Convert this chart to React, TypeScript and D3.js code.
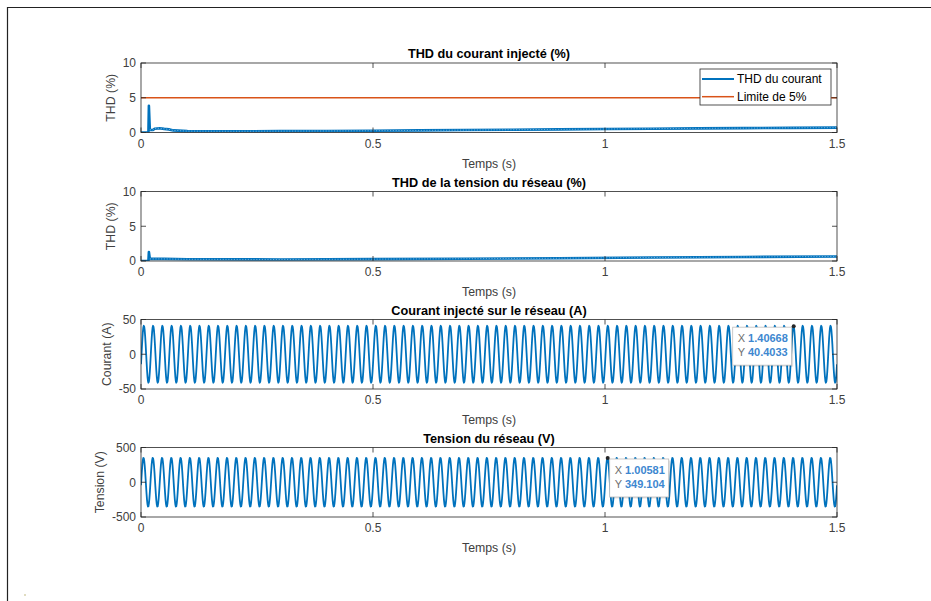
import React from "react";
import * as d3 from "d3";

// ---- data ----
const xTicks = [0, 0.5, 1, 1.5];
const xTickLabels = ["0", "0.5", "1", "1.5"];

// THD of injected current (%), [time s, value]
const thdCurrent: [number, number][] = [
  [0, 0], [0.016, 0], [0.017, 3.85], [0.019, 0.4], [0.025, 0.35], [0.03, 0.55],
  [0.04, 0.62], [0.05, 0.52], [0.06, 0.45], [0.07, 0.3], [0.1, 0.2], [0.2, 0.18],
  [0.3, 0.2], [0.4, 0.22], [0.5, 0.25], [0.6, 0.3], [0.7, 0.35], [0.8, 0.4],
  [0.9, 0.45], [1.0, 0.5], [1.1, 0.55], [1.2, 0.6], [1.3, 0.63], [1.4, 0.67], [1.5, 0.7],
];

// THD of grid voltage (%)
const thdVoltage: [number, number][] = [
  [0, 0], [0.016, 0], [0.017, 1.3], [0.019, 0.3], [0.05, 0.3], [0.1, 0.25],
  [0.3, 0.22], [0.5, 0.27], [0.7, 0.33], [0.9, 0.4], [1.1, 0.5], [1.3, 0.58], [1.5, 0.65],
];

const thdLimit = 5;
// the fast ripple texture is only visible once the startup transient has passed
const rippleStart = 0.019;

// one 20 ms period (50 Hz) sampled every 1 ms
const samplePeriod = 0.001;
const cyclePeriod = 0.02;
const cycleCount = 75;
const currentCycle = [
  -14.4, -1.8, 10.9, 22.6, 32.1, 38.4, 41.0, 39.5, 34.2, 25.6,
  14.4, 1.8, -10.9, -22.6, -32.1, -38.4, -41.0, -39.5, -34.2, -25.6,
];
const voltageCycle = [
  -44.1, 66.0, 169.6, 256.6, 318.5, 349.2, 345.8, 308.5, 240.9, 149.9,
  44.1, -66.0, -169.6, -256.6, -318.5, -349.2, -345.8, -308.5, -240.9, -149.9,
];

const currentTip = { x: 1.40668, y: 40.4033 };
const voltageTip = { x: 1.00581, y: 349.104 };

// ---- layout ----
const W = 931;
const H = 601;
const left = 141;
const right = 837;
const tops = [63, 191.5, 319.5, 447.5];
const ph = 69.5;
const BLUE = "#0072BD";
const RED = "#D95319";
const AX = "#262626";
const FONT = "'Liberation Sans', Arial, Helvetica, sans-serif";

function tile(cycle: number[]): [number, number][] {
  const pts: [number, number][] = [];
  for (let c = 0; c < cycleCount; c++) {
    cycle.forEach((v, k) => pts.push([c * cyclePeriod + k * samplePeriod, v]));
  }
  pts.push([cycleCount * cyclePeriod, cycle[0]]);
  return pts;
}

const x = d3.scaleLinear().domain([0, 1.5]).range([left, right]);

type Panel = {
  title: string;
  ylabel: string;
  domain: [number, number];
  ticks: number[];
  ylabelOffset: number;
};

const panels: Panel[] = [
  { title: "THD du courant injecté (%)", ylabel: "THD (%)", domain: [0, 10], ticks: [0, 5, 10], ylabelOffset: 26 },
  { title: "THD de la tension du réseau (%)", ylabel: "THD (%)", domain: [0, 10], ticks: [0, 5, 10], ylabelOffset: 26 },
  { title: "Courant injecté sur le réseau (A)", ylabel: "Courant (A)", domain: [-50, 50], ticks: [-50, 0, 50], ylabelOffset: 30 },
  { title: "Tension du réseau (V)", ylabel: "Tension (V)", domain: [-500, 500], ticks: [-500, 0, 500], ylabelOffset: 37 },
];

function yScale(i: number) {
  return d3.scaleLinear().domain(panels[i].domain).range([tops[i] + ph, tops[i]]);
}

function Axes({ i }: { i: number }) {
  const p = panels[i];
  const y = yScale(i);
  const top = tops[i];
  const bottom = top + ph;
  const tl = 5;
  return (
    <g fontFamily={FONT}>
      <rect x={left} y={top} width={right - left} height={ph} fill="none" stroke={AX} strokeWidth={0.8} />
      {xTicks.map((t, k) => (
        <g key={"x" + k}>
          <line x1={x(t)} x2={x(t)} y1={bottom} y2={bottom - tl} stroke={AX} strokeWidth={0.8} />
          <line x1={x(t)} x2={x(t)} y1={top} y2={top + tl} stroke={AX} strokeWidth={0.8} />
          <text x={x(t)} y={bottom + 15} fontSize={12} fill="#404040" textAnchor="middle">{xTickLabels[k]}</text>
        </g>
      ))}
      {p.ticks.map((t) => (
        <g key={"y" + t}>
          <line x1={left} x2={left + tl} y1={y(t)} y2={y(t)} stroke={AX} strokeWidth={0.8} />
          <line x1={right} x2={right - tl} y1={y(t)} y2={y(t)} stroke={AX} strokeWidth={0.8} />
          <text x={left - 5} y={y(t) + 4.3} fontSize={12} fill="#404040" textAnchor="end">{t}</text>
        </g>
      ))}
      <text x={(left + right) / 2} y={bottom + 35} fontSize={12.3} fill="#404040" textAnchor="middle">Temps (s)</text>
      <text
        transform={`translate(${left - p.ylabelOffset},${(top + bottom) / 2}) rotate(-90)`}
        fontSize={12.3} fill="#404040" textAnchor="middle"
      >{p.ylabel}</text>
      <text x={(left + right) / 2} y={top - 5} fontSize={12.7} fontWeight="bold" fill="#000" textAnchor="middle">{p.title}</text>
    </g>
  );
}

function Series({ i, data, color, width, ripple }: { i: number; data: [number, number][]; color: string; width: number; ripple?: boolean }) {
  const y = yScale(i);
  const line = d3.line<[number, number]>().x((d) => x(d[0])).y((d) => y(d[1]));
  const d = line(data) || "";
  const rd = ripple ? line(data.filter((p) => p[0] >= rippleStart)) || "" : "";
  return (
    <g clipPath={`url(#clip${i})`}>
      <path d={d} fill="none" stroke={color} strokeWidth={width} strokeLinejoin="round" />
      {ripple && (
        <path d={rd} fill="none" stroke="#ffffff" strokeOpacity={0.55} strokeWidth={0.8} strokeDasharray="1.2 1.6" />
      )}
    </g>
  );
}

function DataTip({ i, tip, side }: { i: number; tip: { x: number; y: number }; side: "left" | "right" }) {
  const y = yScale(i);
  const mx = x(tip.x);
  const my = y(tip.y);
  const bw = 59;
  const bh = 38;
  const bx = side === "left" ? mx - 2 - bw : mx + 2;
  const by = my + 1;
  const fmt = (v: number) => String(v);
  return (
    <g fontFamily={FONT} fontSize={11}>
      <rect x={bx + 1.5} y={by + 1.5} width={bw} height={bh} fill="#000" opacity={0.12} />
      <rect x={bx} y={by} width={bw} height={bh} fill="#ffffff" stroke="#bdbdbd" strokeWidth={0.8} />
      <text x={bx + 5} y={by + 15}>
        <tspan fill="#6e6e6e">X </tspan>
        <tspan fill="#3d87d0" fontWeight="bold">{fmt(tip.x)}</tspan>
      </text>
      <text x={bx + 5} y={by + 29}>
        <tspan fill="#6e6e6e">Y </tspan>
        <tspan fill="#3d87d0" fontWeight="bold">{fmt(tip.y)}</tspan>
      </text>
      <circle cx={mx} cy={my} r={2} fill="#262626" />
    </g>
  );
}

function Legend() {
  const lx = 700;
  const ly = 69;
  const lw = 131;
  const lh = 36;
  return (
    <g fontFamily={FONT} fontSize={12}>
      <rect x={lx} y={ly} width={lw} height={lh} fill="#ffffff" stroke={AX} strokeWidth={0.8} />
      <line x1={lx + 2} x2={lx + 34} y1={ly + 10} y2={ly + 10} stroke={BLUE} strokeWidth={2} />
      <text x={lx + 37} y={ly + 14.3} fill="#000">THD du courant</text>
      <line x1={lx + 2} x2={lx + 34} y1={ly + 27.7} y2={ly + 27.7} stroke={RED} strokeWidth={1.5} />
      <text x={lx + 37} y={ly + 32} fill="#000">Limite de 5%</text>
    </g>
  );
}

export default function App() {
  const currentWave = tile(currentCycle);
  const voltageWave = tile(voltageCycle);
  const limitLine: [number, number][] = [[0, thdLimit], [1.5, thdLimit]];
  return (
    <svg width={W} height={H} style={{ position: "absolute", left: 0, top: 0, background: "#fff" }}>
      <defs>
        {tops.map((t, i) => (
          <clipPath id={`clip${i}`} key={i}>
            <rect x={left} y={t} width={right - left} height={ph} />
          </clipPath>
        ))}
      </defs>
      <rect x={0} y={0} width={W} height={H} fill="#fff" />
      <line x1={7} x2={W} y1={7.5} y2={7.5} stroke="#222" strokeWidth={1.2} />
      <line x1={7.5} x2={7.5} y1={7} y2={H} stroke="#222" strokeWidth={1.2} />
      <circle cx={25} cy={595} r={0.8} fill="#b8b070" />

      <Series i={0} data={limitLine} color={RED} width={1.5} />
      <Series i={0} data={thdCurrent} color={BLUE} width={2.6} ripple />
      <Series i={1} data={thdVoltage} color={BLUE} width={2.6} ripple />
      <Series i={2} data={currentWave} color={BLUE} width={1.8} />
      <Series i={3} data={voltageWave} color={BLUE} width={1.8} />

      {panels.map((_, i) => <Axes i={i} key={i} />)}
      <Legend />
      <DataTip i={2} tip={currentTip} side="left" />
      <DataTip i={3} tip={voltageTip} side="right" />
    </svg>
  );
}
